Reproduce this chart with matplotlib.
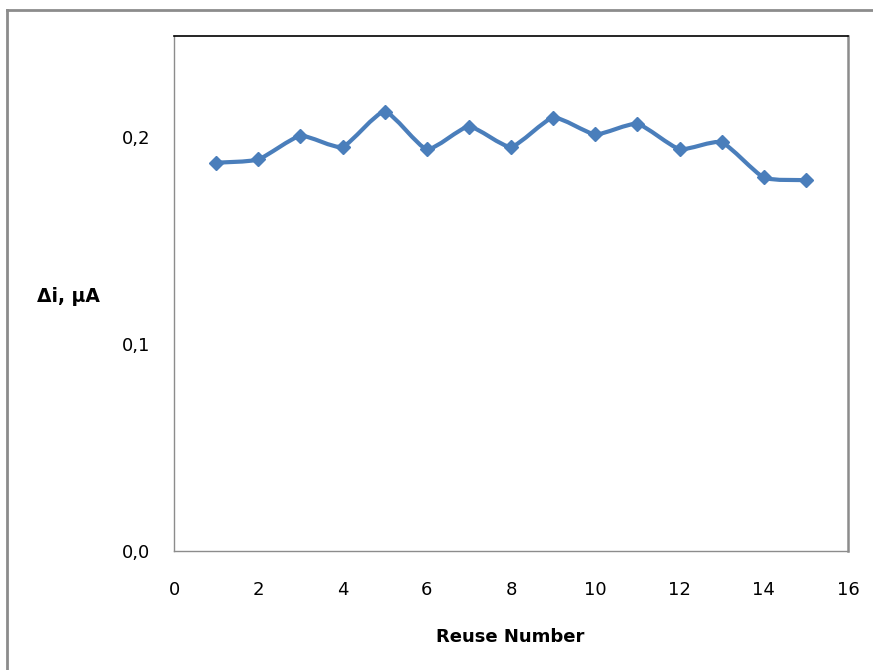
import matplotlib
matplotlib.use("Agg")
import matplotlib.pyplot as plt
from matplotlib.path import Path
from matplotlib.patches import PathPatch
from matplotlib.lines import Line2D
import numpy as np

reuse = [1, 2, 3, 4, 5, 6, 7, 8, 9, 10, 11, 12, 13, 14, 15]
delta_i = [0.1876, 0.1892, 0.2005, 0.1953, 0.2122, 0.1942, 0.2050, 0.1953,
           0.2093, 0.2013, 0.2063, 0.1942, 0.1974, 0.1805, 0.1792]
xticks = [0, 2, 4, 6, 8, 10, 12, 14, 16]
yticks = [0.0, 0.1, 0.2]
ytick_labels = ["0,0", "0,1", "0,2"]

plt.rcParams['font.family'] = ["DejaVu Sans"]
BLUE = "#4a7ebb"

fig = plt.figure(figsize=(8.73, 6.70), dpi=100)
ax = fig.add_axes([174/873, 1 - 551/670, (848-174)/873, (551-36)/670])

# lightly smoothed line (cardinal spline as cubic Bezier) through the points
x = np.asarray(reuse, float)
y = np.asarray(delta_i, float)
pts = np.column_stack([x, y])
ext = np.vstack([pts[0], pts, pts[-1]])
k = 1.0 / 10.0
verts = [tuple(pts[0])]
codes = [Path.MOVETO]
for i in range(len(pts) - 1):
    p0, p1, p2, p3 = ext[i], ext[i+1], ext[i+2], ext[i+3]
    c1 = p1 + (p2 - p0) * k
    c2 = p2 - (p3 - p1) * k
    verts += [tuple(c1), tuple(c2), tuple(p2)]
    codes += [Path.CURVE4] * 3
ax.add_patch(PathPatch(Path(verts, codes), facecolor="none", edgecolor=BLUE,
                       lw=3.0, capstyle="round", joinstyle="round", zorder=2))
ax.plot(x, y, linestyle="none", marker="D", markersize=7.2,
        color=BLUE, markeredgecolor=BLUE, zorder=3)

ax.set_xlim(0, 16)
ax.set_ylim(0, 0.2488)
ax.set_xticks(xticks)
ax.set_xticklabels([str(t) for t in xticks])
ax.set_yticks(yticks)
ax.set_yticklabels(ytick_labels)
ax.tick_params(axis="both", length=0, labelsize=13, colors="black")
ax.tick_params(axis="x", pad=21.5)
ax.tick_params(axis="y", pad=17.3)

for side in ["left", "bottom"]:
    ax.spines[side].set_color("#8c8c8c")
    ax.spines[side].set_linewidth(1.0)
ax.spines["right"].set_color("#8c8c8c")
ax.spines["right"].set_linewidth(1.8)
ax.spines["top"].set_color("black")
ax.spines["top"].set_linewidth(1.2)

fig.text(68.5/873, 1 - 297/670, "Δi, μA", ha="center", va="center",
         fontsize=13.5, fontweight="bold")
fig.text(510/873, 1 - 637/670, "Reuse Number", ha="center", va="center",
         fontsize=13, fontweight="bold")

# outer chart-area frame (left and top edges only are visible)
fx, fy = 7/873, 1 - 10/670
fig.add_artist(Line2D([fx, fx], [-0.05, fy], transform=fig.transFigure,
                      color="#8c8c8c", lw=2.0, solid_capstyle="projecting"))
fig.add_artist(Line2D([fx, 1.05], [fy, fy], transform=fig.transFigure,
                      color="#8c8c8c", lw=2.0, solid_capstyle="projecting"))

fig.savefig("out.png", dpi=100)
